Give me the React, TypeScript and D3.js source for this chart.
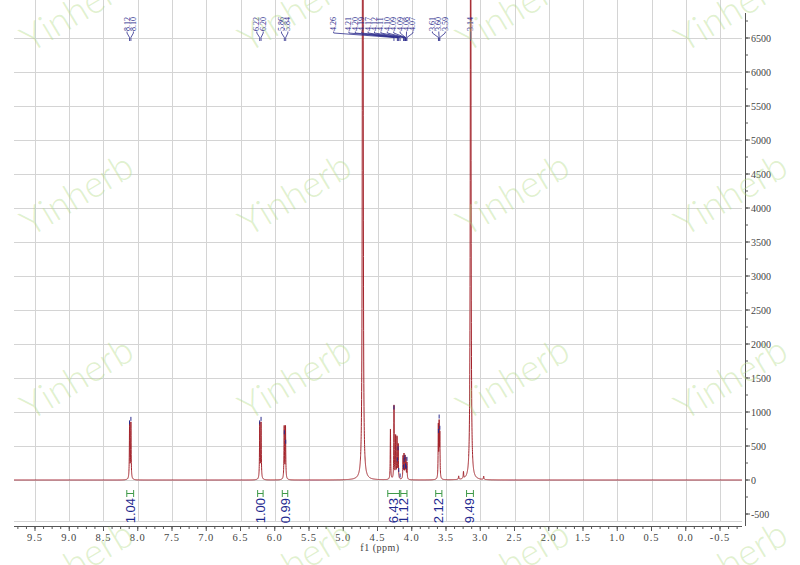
import React from 'react';
import * as d3 from 'd3';

const W = 800;
const H = 565;

// ---- spectrum peaks (ppm, height, half width in ppm) ----
const peakPpm = [8.119, 8.100, 6.219, 6.200, 5.862, 5.843, 4.715, 4.311, 4.259, 4.235, 4.215, 4.198, 4.127, 4.113, 4.098, 4.085, 4.070, 3.612, 3.600, 3.590, 3.315, 3.245, 3.140, 2.950];
const peakHeight = [820, 820, 820, 820, 770, 770, 40000, 740, 1080, 620, 600, 500, 330, 350, 320, 290, 240, 760, 760, 620, 50, 100, 12000, 50];
const peakWidth = [0.004, 0.004, 0.004, 0.004, 0.004, 0.004, 0.003, 0.0035, 0.0035, 0.0035, 0.0035, 0.0035, 0.0035, 0.0035, 0.0035, 0.0035, 0.0035, 0.0035, 0.0035, 0.0035, 0.004, 0.004, 0.005, 0.004];

// ---- peak labels (grouped; label block centred at given ppm) ----
const labelGroupTexts = [
  ['8.12', '8.10'],
  ['6.22', '6.20'],
  ['5.86', '5.84'],
  ['4.26'],
  ['4.21', '4.20', '4.19', '4.17', '4.12', '4.11', '4.10', '4.09', '4.09', '4.08', '4.07'],
  ['3.61', '3.60', '3.59'],
  ['3.14'],
];
const labelGroupAt = [8.11, 6.215, 5.855, 5.14, 4.45, 3.605, 3.14];

// ---- integrals ----
const integralFrom = [8.16, 6.25, 5.89, 4.35, 4.16, 3.65, 3.20];
const integralTo = [8.06, 6.17, 5.81, 4.18, 4.07, 3.56, 3.10];
const integralValue = ['1.04', '1.00', '0.99', '6.43', '1.12', '2.12', '9.49'];

// ---- axes ----
const xMajorTicks = [9.5, 9.0, 8.5, 8.0, 7.5, 7.0, 6.5, 6.0, 5.5, 5.0, 4.5, 4.0, 3.5, 3.0, 2.5, 2.0, 1.5, 1.0, 0.5, 0.0, -0.5];
const yMajorTicks = [-500, 0, 500, 1000, 1500, 2000, 2500, 3000, 3500, 4000, 4500, 5000, 5500, 6000, 6500];
const yGridTicks = [0, 500, 1000, 1500, 2000, 2500, 3000, 3500, 4000, 4500, 5000, 5500, 6000, 6500];

const PLOT_L = 14;
const PLOT_R = 742;
const PLOT_B = 521;
const AXIS_Y = 526;
const RAXIS_X = 745;

const xScale = d3.scaleLinear().domain([9.5, -0.5]).range([35, 720]);
const yScale = d3.scaleLinear().domain([0, 6500]).range([480, 38]);

function specValue(p: number) {
  let v = 0;
  for (let i = 0; i < peakPpm.length; i++) {
    const d = (p - peakPpm[i]) / peakWidth[i];
    v += peakHeight[i] / (1 + d * d);
  }
  return v;
}

const SERIF = '"Liberation Serif", "DejaVu Serif", serif';
const SANS = '"Liberation Sans", Arial, sans-serif';
const BLUE = '#2b2b8c';
const RED = '#a3232b';
const GREEN = '#3f9a48';

export default function App() {
  const ppmMax = xScale.invert(PLOT_L);
  const ppmMin = xScale.invert(PLOT_R);
  const pts: number[] = [];
  for (let p = ppmMax; p >= ppmMin; p -= 0.0008) pts.push(p);
  peakPpm.forEach((p) => pts.push(p));
  pts.sort((a, b) => b - a);
  const data = pts.map((p) => [p, specValue(p)] as [number, number]);
  const line = d3
    .line<[number, number]>()
    .x((d) => xScale(d[0]))
    .y((d) => Math.max(-5, yScale(d[1])));
  const pathD = line(data) || '';

  // minor ticks
  const xMinor: number[] = [];
  for (let p = 10.0; p >= -1.0; p -= 0.125) {
    const x = xScale(p);
    if (x >= PLOT_L && x <= PLOT_R) xMinor.push(p);
  }
  const yMinor: number[] = [];
  for (let v = -750; v <= 6750; v += 250) {
    const y = yScale(v);
    if (y >= 13 && y <= AXIS_Y) yMinor.push(v);
  }

  // labels
  const spacing = 6.4;
  const labels: { text: string; lx: number; px: number }[] = [];
  labelGroupTexts.forEach((texts, gi) => {
    const cx = xScale(labelGroupAt[gi]);
    const n = texts.length;
    texts.forEach((t, i) => {
      labels.push({ text: t, lx: cx + (i - (n - 1) / 2) * spacing, px: xScale(parseFloat(t)) });
    });
  });

  // watermark
  const wmCols = [0, 1, 2, 3];
  const wmRows = [0, 1, 2, 3];

  return (
    <svg
      width={W}
      height={H}
      style={{ position: 'absolute', left: 0, top: 0, background: '#fff' }}
      xmlns="http://www.w3.org/2000/svg"
    >
      <rect x={0} y={0} width={W} height={H} fill="#fff" />
      {/* grid */}
      <g stroke="#d4d4d4" strokeWidth={1}>
        {xMajorTicks.map((t) => (
          <line key={'gx' + t} x1={Math.round(xScale(t)) + 0.5} x2={Math.round(xScale(t)) + 0.5} y1={0} y2={PLOT_B} />
        ))}
        {yGridTicks.map((t) => (
          <line key={'gy' + t} x1={PLOT_L} x2={PLOT_R} y1={Math.round(yScale(t)) + 0.5} y2={Math.round(yScale(t)) + 0.5} />
        ))}
        <line x1={PLOT_L} x2={PLOT_R} y1={PLOT_B + 0.5} y2={PLOT_B + 0.5} />
      </g>

      {/* spectrum */}
      <path d={pathD} fill="none" stroke={RED} strokeWidth={1} />

      {/* peak top marks */}
      <g stroke={BLUE} strokeWidth={1}>
        {labels.map((l, i) => {
          const v = specValue(parseFloat(l.text));
          if (v > 6500) return null;
          const y = yScale(v);
          return <line key={'pm' + i} x1={l.px} x2={l.px} y1={y - 5} y2={y - 1} />;
        })}
      </g>

      {/* peak labels */}
      <g>
        {labels.map((l, i) => (
          <g key={'lb' + i}>
            <text
              transform={`translate(${l.lx},31) rotate(-90)`}
              fontFamily={SERIF}
              fontSize={8}
              fill={BLUE}
              textAnchor="start"
              dominantBaseline="central"
            >
              {l.text}
            </text>
            <path
              d={`M${l.lx},31.5 L${l.lx},33 L${l.px},37.5 L${l.px},41`}
              fill="none"
              stroke={BLUE}
              strokeWidth={0.8}
            />
          </g>
        ))}
      </g>

      {/* integrals */}
      <g>
        {integralValue.map((v, i) => {
          const x1 = xScale(integralFrom[i]);
          const x2 = xScale(integralTo[i]);
          const cx = (x1 + x2) / 2;
          return (
            <g key={'int' + i}>
              <g stroke={GREEN} strokeWidth={1}>
                <line x1={x1} x2={x2} y1={493.5} y2={493.5} />
                <line x1={x1} x2={x1} y1={490} y2={497} />
                <line x1={x2} x2={x2} y1={490} y2={497} />
              </g>
              <text
                transform={`translate(${cx},498) rotate(-90)`}
                fontFamily={SANS}
                fontSize={13}
                fill="#1f2a8f"
                textAnchor="end"
                dominantBaseline="central"
              >
                {v}
              </text>
            </g>
          );
        })}
      </g>

      {/* bottom axis */}
      <g stroke="#555" strokeWidth={1}>
        <line x1={PLOT_L} x2={PLOT_R} y1={AXIS_Y + 0.5} y2={AXIS_Y + 0.5} />
        {xMajorTicks.map((t) => (
          <line key={'xt' + t} x1={xScale(t)} x2={xScale(t)} y1={AXIS_Y} y2={AXIS_Y + 5} />
        ))}
        {xMinor.map((t) => (
          <line key={'xm' + t} x1={xScale(t)} x2={xScale(t)} y1={AXIS_Y} y2={AXIS_Y + 3} />
        ))}
      </g>
      <g fontFamily={SERIF} fontSize={10.5} fill="#444" textAnchor="middle">
        {xMajorTicks.map((t) => (
          <text key={'xl' + t} x={xScale(t)} y={541} letterSpacing={1}>
            {t.toFixed(1)}
          </text>
        ))}
        <text x={380} y={551} fontSize={10} letterSpacing={0.5}>
          f1 (ppm)
        </text>
      </g>

      {/* right axis */}
      <g stroke="#555" strokeWidth={1}>
        <line x1={RAXIS_X + 0.5} x2={RAXIS_X + 0.5} y1={13} y2={AXIS_Y} />
        {yMajorTicks.map((t) => (
          <line key={'yt' + t} x1={RAXIS_X} x2={RAXIS_X + 5} y1={yScale(t)} y2={yScale(t)} />
        ))}
        {yMinor.map((t) => (
          <line key={'ym' + t} x1={RAXIS_X} x2={RAXIS_X + 3} y1={yScale(t)} y2={yScale(t)} />
        ))}
      </g>
      <g fontFamily={SERIF} fontSize={10} fill="#444" textAnchor="start">
        {yMajorTicks.map((t) => (
          <text key={'yl' + t} x={751} y={yScale(t)} dominantBaseline="central">
            {t}
          </text>
        ))}
      </g>

      {/* watermark */}
      <g
        fontFamily='Lato, "Open Sans", sans-serif'
        fontWeight={300}
        fontSize={37}
        fill="rgb(175,218,130)"
        fillOpacity={0.4}
        textAnchor="middle"
        dominantBaseline="central"
      >
        {wmRows.map((r) =>
          wmCols.map((c) => (
            <text key={'wm' + r + c} transform={`translate(${76 + c * 218},${9 + r * 184}) rotate(-31)`}>
              Yinherb
            </text>
          ))
        )}
      </g>
    </svg>
  );
}
